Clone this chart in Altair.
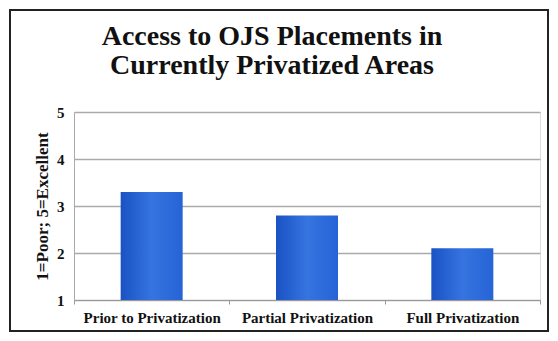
import altair as alt
import pandas as pd

categories = ["Prior to Privatization", "Partial Privatization", "Full Privatization"]
ratings = [3.3, 2.8, 2.1]
y_ticks = [1, 2, 3, 4, 5]

df = pd.DataFrame({"stage": categories, "rating": ratings})

W, H = 466, 188
PL, PT, PR, PB = 66, 104, 10, 33

grad = alt.Gradient(
    gradient="linear", x1=0, x2=1, y1=0, y2=0,
    stops=[alt.GradientStop(color="#1a52c4", offset=0),
           alt.GradientStop(color="#3674e0", offset=0.5),
           alt.GradientStop(color="#2663d6", offset=1)],
)

bars = alt.Chart(df).mark_bar(fill=grad, size=62, clip=True).encode(
    x=alt.X("stage:N", sort=categories, title=None,
            scale=alt.Scale(paddingInner=0.0, paddingOuter=0.0),
            axis=alt.Axis(labelAngle=0, labelFont="Liberation Serif", labelFontWeight="bold",
                          labelFontSize=15, labelColor="#111", labelPadding=6,
                          tickBand="extent", tickColor="#999", tickSize=4,
                          domainColor="#999", grid=False)),
    y=alt.Y("rating:Q", title="1=Poor; 5=Excellent",
            scale=alt.Scale(domain=[1, 5], nice=False),
            axis=alt.Axis(values=y_ticks, format="d", labelFont="Liberation Serif",
                          labelFontWeight="bold", labelFontSize=15, labelColor="#111",
                          labelPadding=10, ticks=False, domainColor="#aaa",
                          gridColor="#aaa", gridWidth=1.5,
                          titleFont="Liberation Serif", titleFontWeight="bold",
                          titleFontSize=17, titleColor="#111", titlePadding=5)),
    y2=alt.datum(1),
)

frame = alt.Chart(pd.DataFrame({"a": [0]})).mark_rect(
    fill=None, stroke="#222", strokeWidth=2
).encode(
    x=alt.value(-PL + 2), x2=alt.value(W + PR - 2),
    y=alt.value(-PT + 2), y2=alt.value(H + PB - 2),
)

chart = alt.layer(bars, frame).properties(
    width=W, height=H,
    autosize=alt.AutoSizeParams(type="none"),
    padding={"left": PL, "top": PT, "right": PR, "bottom": PB},
    title=alt.TitleParams(
        text=["Access to OJS Placements in", "Currently Privatized Areas"],
        font="Liberation Serif", fontWeight="bold", fontSize=28, color="#111",
        lineHeight=29, anchor="middle", dx=-35, offset=0, dy=71,
    ),
).configure_view(stroke=None).configure(background="white")

chart.save("out.html", embed_options={"renderer": "svg", "actions": False})
